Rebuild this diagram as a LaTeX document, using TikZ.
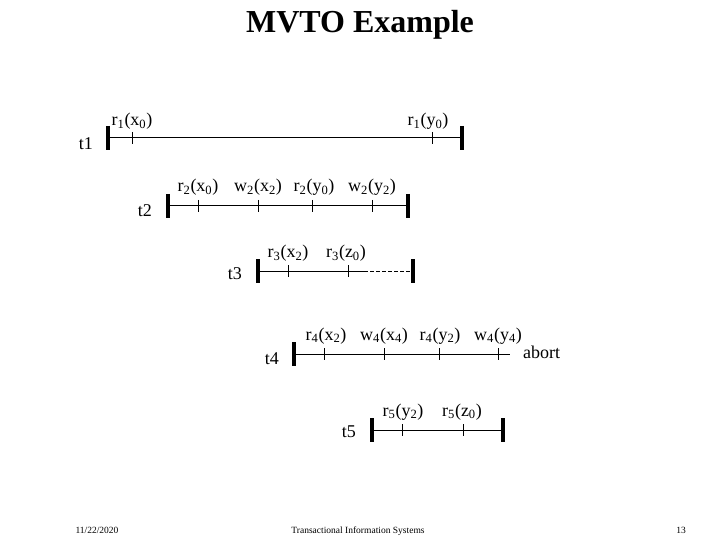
\documentclass[tikz,border=0pt]{standalone}
\usepackage{fontspec}
\setmainfont{Liberation Serif}
\begin{document}
\begin{tikzpicture}[x=1pt,y=-1pt,
  bar/.style={line width=4pt},
  tline/.style={line width=1pt},
  tk/.style={line width=0.7pt},
  lab/.style={font=\fontsize{18}{20}\selectfont, inner sep=0pt, anchor=base},
  tname/.style={font=\fontsize{18}{20}\selectfont, inner sep=0pt, anchor=base east},
  foot/.style={font=\fontsize{9.5}{11}\selectfont, inner sep=0pt, anchor=base}]
\useasboundingbox (0,0) rectangle (720,540);
% title
\node[font=\fontsize{32}{36}\selectfont\bfseries, inner sep=0pt, anchor=base] (title) at (360,33) {MVTO Example};
% t1
\coordinate (a1) at (108,138); \coordinate (b1) at (462,138);
\draw[tline] (a1) -- (b1);
\draw[bar] (108,126) -- (108,150);
\draw[bar] (462,126) -- (462,150);
\draw[tk] (132,132) -- (132,144);
\draw[tk] (432,132) -- (432,144);
\node[lab] (l11) at (132,126) {r\textsubscript{1}(x\textsubscript{0})};
\node[lab] (l12) at (428,126) {r\textsubscript{1}(y\textsubscript{0})};
\node[tname] (t1) at (93,150) {t1};
% t2
\coordinate (a2) at (168,206); \coordinate (b2) at (408,206);
\draw[tline] (a2) -- (b2);
\draw[bar] (168,194) -- (168,218);
\draw[bar] (408,194) -- (408,218);
\foreach \x in {198,258,312,372} \draw[tk] (\x,200) -- (\x,212);
\node[lab] (l21) at (198,192) {r\textsubscript{2}(x\textsubscript{0})};
\node[lab] (l22) at (258,192) {w\textsubscript{2}(x\textsubscript{2})};
\node[lab] (l23) at (314,192) {r\textsubscript{2}(y\textsubscript{0})};
\node[lab] (l24) at (372,192) {w\textsubscript{2}(y\textsubscript{2})};
\node[tname] (t2) at (152,217) {t2};
% t3
\coordinate (a3) at (258,271); \coordinate (m3) at (364,271); \coordinate (b3) at (413,271);
\draw[tline] (a3) -- (m3);
\draw[tline, dash pattern=on 4pt off 2pt] (m3) -- (b3);
\draw[bar] (258,259) -- (258,283);
\draw[bar] (413,259) -- (413,283);
\draw[tk] (288,265) -- (288,277);
\draw[tk] (348,265) -- (348,277);
\node[lab] (l31) at (288,258) {r\textsubscript{3}(x\textsubscript{2})};
\node[lab] (l32) at (346,258) {r\textsubscript{3}(z\textsubscript{0})};
\node[tname] (t3) at (242,279) {t3};
% t4
\coordinate (a4) at (294,354); \coordinate (b4) at (510,354);
\draw[tline] (a4) -- (b4);
\draw[bar] (294,342) -- (294,366);
\foreach \x in {324,384,439,498} \draw[tk] (\x,348) -- (\x,360);
\node[lab] (l41) at (326,340) {r\textsubscript{4}(x\textsubscript{2})};
\node[lab] (l42) at (384,340) {w\textsubscript{4}(x\textsubscript{4})};
\node[lab] (l43) at (440,340) {r\textsubscript{4}(y\textsubscript{2})};
\node[lab] (l44) at (498,340) {w\textsubscript{4}(y\textsubscript{4})};
\node[font=\fontsize{18}{20}\selectfont, inner sep=0pt, anchor=base west] (ab) at (523,358) {abort};
\node[tname] (t4) at (279,364) {t4};
% t5
\coordinate (a5) at (372,430); \coordinate (b5) at (503,430);
\draw[tline] (a5) -- (b5);
\draw[bar] (372,418) -- (372,442);
\draw[bar] (503,418) -- (503,442);
\draw[tk] (402,424) -- (402,436);
\draw[tk] (463,424) -- (463,436);
\node[lab] (l51) at (403,416) {r\textsubscript{5}(y\textsubscript{2})};
\node[lab] (l52) at (462,416) {r\textsubscript{5}(z\textsubscript{0})};
\node[tname] (t5) at (356,437) {t5};
% footer
\node[foot] (f1) at (97,533) {11/22/2020};
\node[foot] (f2) at (358,533) {Transactional Information Systems};
\node[foot] (f3) at (681,533) {13};
\end{tikzpicture}
\end{document}
